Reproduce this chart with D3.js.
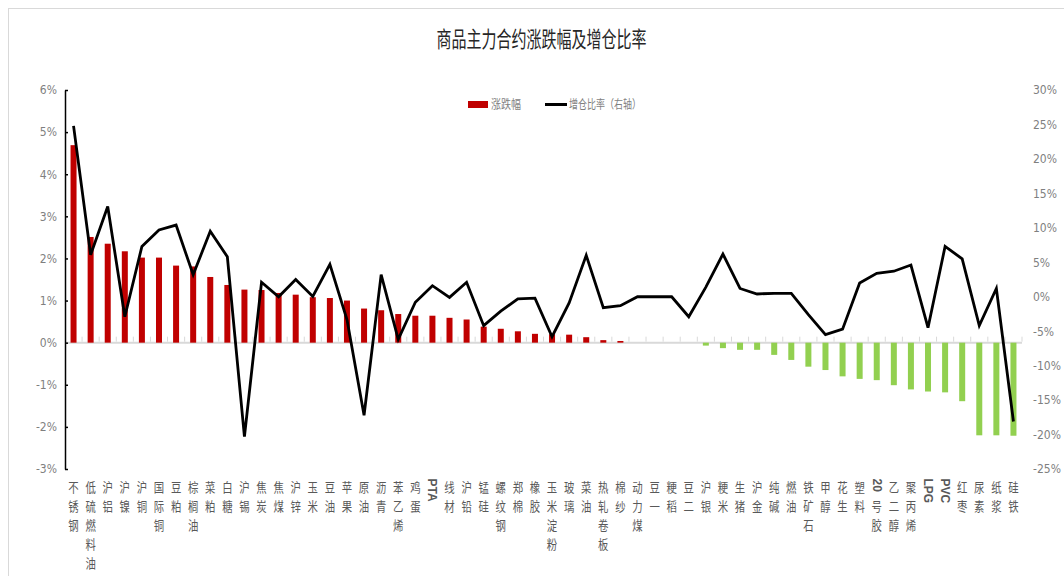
<!doctype html>
<html>
<head>
<meta charset="UTF-8">
<title>商品主力合约涨跌幅及增仓比率</title>
<script src="https://cdn.jsdelivr.net/npm/d3@7"></script>
<style>
    body { margin:0; background:#fff; }
    .axis text {
        font-family: "Liberation Sans Narrow", "DejaVu Sans Condensed", Roboto, sans-serif;
        font-size: 12px;
        fill: #7f7f7f;
    }
    .cat {
        font-family: "Noto Sans CJK SC", sans-serif;
        font-size: 13px;
        fill: #595959;
    }
    .cat-latin {
        font-family: "Liberation Sans", Arial, sans-serif;
        font-size: 12px;
        font-weight: bold;
        fill: #595959;
    }
    .legend {
        font-family: "Noto Sans CJK SC", sans-serif;
        font-size: 12px;
        fill: #7f7f7f;
    }
</style>
</head>
<body>
<script>
    var cats = ["不锈钢","低硫燃料油","沪铝","沪镍","沪铜","国际铜","豆粕","棕榈油","菜粕","白糖",
                "沪锡","焦炭","焦煤","沪锌","玉米","豆油","苹果","原油","沥青","苯乙烯",
                "鸡蛋","PTA","线材","沪铅","锰硅","螺纹钢","郑棉","橡胶","玉米淀粉","玻璃",
                "菜油","热轧卷板","棉纱","动力煤","豆一","粳稻","豆二","沪银","粳米","生猪",
                "沪金","纯碱","燃油","铁矿石","甲醇","花生","塑料","20号胶","乙二醇","聚丙烯",
                "LPG","PVC","红枣","尿素","纸浆","硅铁"];

    // 涨跌幅 (%), left axis
    var change = [4.69, 2.51, 2.35, 2.17, 2.02, 2.02, 1.83, 1.81, 1.56, 1.37,
                  1.26, 1.25, 1.18, 1.14, 1.08, 1.06, 1.00, 0.81, 0.77, 0.68,
                  0.64, 0.64, 0.59, 0.55, 0.38, 0.33, 0.27, 0.21, 0.20, 0.19,
                  0.13, 0.06, 0.04, 0, 0, 0, 0, -0.07, -0.13, -0.17,
                  -0.17, -0.29, -0.41, -0.57, -0.65, -0.80, -0.86, -0.89, -1.01, -1.11,
                  -1.16, -1.18, -1.39, -2.20, -2.20, -2.21];

    // 增仓比率 (%), right axis
    var oiRatio = [24.8, 6.1, 13.1, -2.9, 7.3, 9.7, 10.4, 3.2, 9.5, 5.8,
                   -20.3, 2.1, 0.0, 2.5, 0.05, 4.7, -3.3, -17.2, 3.2, -6.2,
                   -0.8, 1.6, -0.1, 2.1, -4.2, -2.1, -0.3, -0.2, -5.8, -0.9,
                   6.0, -1.6, -1.3, 0, 0, 0, -2.9, 1.4, 6.2, 1.2,
                   0.4, 0.5, 0.5, -2.6, -5.5, -4.7, 2.0, 3.4, 3.7, 4.6,
                   -4.5, 7.3, 5.5, -4.2, 1.2, -18.1];

    var leftTicks = [-3, -2, -1, 0, 1, 2, 3, 4, 5, 6];
    var rightTicks = [-25, -20, -15, -10, -5, 0, 5, 10, 15, 20, 25, 30];

    var W = 1064, H = 576;
    var plot = { left: 65, right: 1022, top: 90, bottom: 469 };

    var svg = d3.select("body").append("svg")
        .attr("width", W)
        .attr("height", H);

    // chart frame
    svg.append("rect")
        .attr("x", 8.5).attr("y", 8.5)
        .attr("width", W).attr("height", H)
        .attr("fill", "none")
        .attr("stroke", "#d9d9d9");

    svg.append("text")
        .text("商品主力合约涨跌幅及增仓比率")
        .attr("x", 541.5)
        .attr("y", 47)
        .attr("text-anchor", "middle")
        .attr("textLength", 210)
        .attr("lengthAdjust", "spacingAndGlyphs")
        .style("font-family", "\"Noto Sans CJK SC\", sans-serif")
        .style("font-size", "22px")
        .style("fill", "#262626");

    var x = d3.scaleBand()
        .domain(cats)
        .range([plot.left, plot.right]);

    var yL = d3.scaleLinear().domain([-3, 6]).range([plot.bottom, plot.top]);
    var yR = d3.scaleLinear().domain([-25, 30]).range([plot.bottom, plot.top]);

    var cx = function (d) { return x(d) + x.bandwidth() / 2; };
    var barW = 6;

    // zero line + category ticks
    svg.append("line")
        .attr("x1", plot.left).attr("x2", plot.right)
        .attr("y1", yL(0)).attr("y2", yL(0))
        .style("stroke", "#d9d9d9")
        .style("stroke-width", 2);

    svg.selectAll(".cat-tick")
        .data(cats)
        .enter()
        .append("line")
        .attr("class", "cat-tick")
        .attr("x1", function (d) { return x(d) + x.bandwidth(); })
        .attr("x2", function (d) { return x(d) + x.bandwidth(); })
        .attr("y1", yL(0) - 1)
        .attr("y2", yL(0) - 6)
        .style("stroke", "#d9d9d9")
        .style("stroke-width", 1);

    // bars
    svg.selectAll(".bar")
        .data(cats)
        .enter()
        .append("rect")
        .attr("class", "bar")
        .attr("x", function (d) { return cx(d) - barW / 2; })
        .attr("width", barW)
        .attr("y", function (d, i) { return yL(Math.max(0, change[i])); })
        .attr("height", function (d, i) { return Math.abs(yL(change[i]) - yL(0)); })
        .style("fill", function (d, i) { return change[i] >= 0 ? "#c00000" : "#92d050"; });

    // left axis
    var axL = svg.append("g")
        .attr("class", "axis")
        .attr("transform", "translate(" + plot.left + ",0)")
        .call(d3.axisLeft(yL)
            .tickValues(leftTicks)
            .tickFormat(function (d) { return d + "%"; })
            .tickSizeInner(-3)
            .tickSizeOuter(0)
            .tickPadding(8));
    axL.select(".domain").style("stroke", "#000").style("stroke-width", 1.5);
    axL.selectAll(".tick line").style("stroke", "#000").style("stroke-width", 1.5);

    // right axis (labels only)
    var axR = svg.append("g")
        .attr("class", "axis")
        .attr("transform", "translate(" + plot.right + ",0)")
        .call(d3.axisRight(yR)
            .tickValues(rightTicks)
            .tickFormat(function (d) { return d + "%"; })
            .tickSize(0)
            .tickPadding(11));
    axR.select(".domain").remove();

    // line
    var line = d3.line()
        .x(function (d) { return cx(d); })
        .y(function (d, i) { return yR(oiRatio[i]); });

    svg.append("path")
        .datum(cats)
        .attr("d", line)
        .style("fill", "none")
        .style("stroke", "#000")
        .style("stroke-width", 2.8)
        .style("stroke-linejoin", "miter");

    // category labels, stacked vertically
    var slot = 19, firstCenter = 487;
    cats.forEach(function (name) {
        var g = svg.append("g").attr("transform", "translate(" + cx(name) + ",0)");
        var runs = name.match(/[A-Za-z0-9]+|[^A-Za-z0-9]/g);
        var yc = firstCenter;
        runs.forEach(function (r) {
            if (/^[A-Za-z0-9]+$/.test(r)) {
                var t = g.append("text")
                    .attr("class", "cat-latin")
                    .text(r)
                    .attr("transform", "translate(0," + (yc - slot / 2 + 1) + ") rotate(90)")
                    .attr("dominant-baseline", "central");
                var len = t.node().getComputedTextLength();
                yc += Math.max(len + 6, slot);
            } else {
                g.append("text")
                    .attr("class", "cat")
                    .text(r)
                    .attr("text-anchor", "middle")
                    .attr("transform", "translate(0," + (yc + 5) + ") scale(0.8,1)");
                yc += slot;
            }
        });
    });

    // legend
    svg.append("rect")
        .attr("x", 468).attr("y", 101)
        .attr("width", 20).attr("height", 7)
        .style("fill", "#c00000");
    svg.append("text")
        .attr("class", "legend")
        .text("涨跌幅")
        .attr("x", 491).attr("y", 109)
        .attr("textLength", 30)
        .attr("lengthAdjust", "spacingAndGlyphs");
    svg.append("line")
        .attr("x1", 545).attr("x2", 567)
        .attr("y1", 104.5).attr("y2", 104.5)
        .style("stroke", "#000")
        .style("stroke-width", 3);
    svg.append("text")
        .attr("class", "legend")
        .text("增仓比率（右轴）")
        .attr("x", 569).attr("y", 109)
        .attr("textLength", 72)
        .attr("lengthAdjust", "spacingAndGlyphs");
</script>
</body>
</html>
